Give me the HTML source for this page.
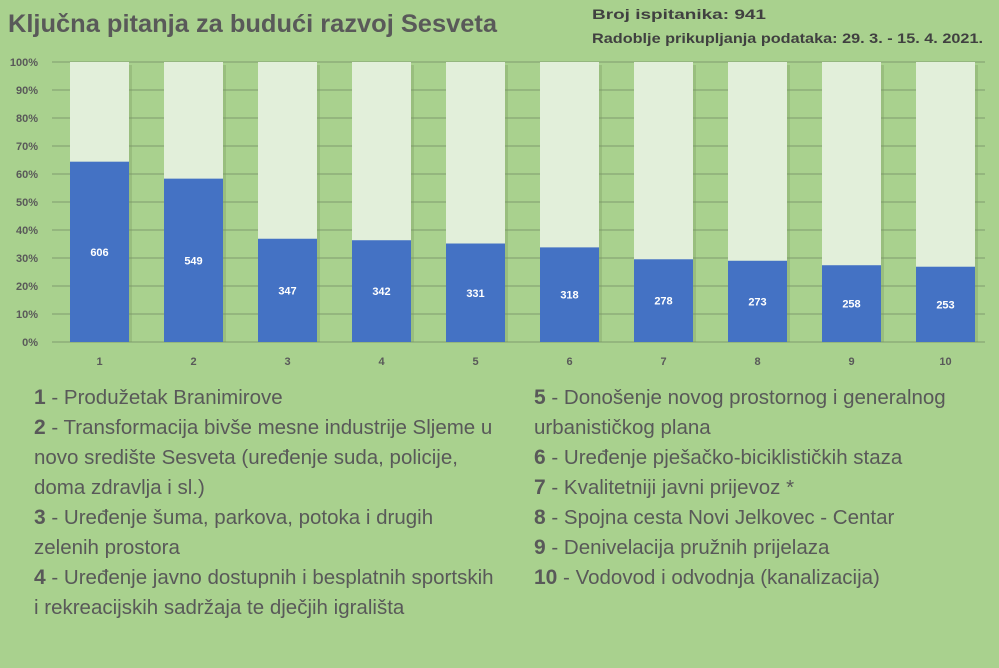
<!DOCTYPE html><html><head><meta charset="utf-8"><style>
body{margin:0;background:#a9d18e;}
svg{display:block;font-family:"Liberation Sans",sans-serif;}
.leg{font-size:20.5px;fill:#595959;}
.leg tspan.b{font-weight:bold;font-size:21px;}
</style></head><body>
<svg width="999" height="668" viewBox="0 0 999 668">
<rect width="999" height="668" fill="#a9d18e"/>
<text x="8" y="32" font-size="25" font-weight="bold" fill="#595959" textLength="489" lengthAdjust="spacingAndGlyphs">Ključna pitanja za budući razvoj Sesveta</text>
<text x="592" y="19" font-size="14" font-weight="bold" fill="#404040" textLength="174" lengthAdjust="spacingAndGlyphs">Broj ispitanika: 941</text>
<text x="592" y="43" font-size="14" font-weight="bold" fill="#404040" textLength="391" lengthAdjust="spacingAndGlyphs">Radoblje prikupljanja podataka: 29. 3. - 15. 4. 2021.</text>
<g stroke="#7f9a6e" stroke-width="1">
<line x1="52" x2="985" y1="62" y2="62"/><line x1="52" x2="985" y1="90" y2="90"/><line x1="52" x2="985" y1="118" y2="118"/><line x1="52" x2="985" y1="146" y2="146"/><line x1="52" x2="985" y1="174" y2="174"/><line x1="52" x2="985" y1="202" y2="202"/><line x1="52" x2="985" y1="230" y2="230"/><line x1="52" x2="985" y1="258" y2="258"/><line x1="52" x2="985" y1="286" y2="286"/><line x1="52" x2="985" y1="314" y2="314"/><line x1="52" x2="985" y1="342" y2="342"/>
</g>
<g font-size="11" font-weight="bold" fill="#595959" text-anchor="end">
<text x="38" y="66">100%</text><text x="38" y="94">90%</text><text x="38" y="122">80%</text><text x="38" y="150">70%</text><text x="38" y="178">60%</text><text x="38" y="206">50%</text><text x="38" y="234">40%</text><text x="38" y="262">30%</text><text x="38" y="290">20%</text><text x="38" y="318">10%</text><text x="38" y="346">0%</text>
</g>
<g id="bars"></g>
<g class="leg">
<text x="34" y="404"><tspan class="b">1</tspan> - Produžetak  Branimirove</text>
<text x="34" y="434"><tspan class="b">2</tspan> - Transformacija bivše mesne industrije Sljeme u</text>
<text x="34" y="464">novo središte Sesveta (uređenje suda, policije,</text>
<text x="34" y="494">doma zdravlja i sl.)</text>
<text x="34" y="524"><tspan class="b">3</tspan> - Uređenje šuma, parkova, potoka i drugih</text>
<text x="34" y="554">zelenih prostora</text>
<text x="34" y="584"><tspan class="b">4</tspan> - Uređenje javno dostupnih i besplatnih sportskih</text>
<text x="34" y="614">i rekreacijskih sadržaja te dječjih igrališta</text>
<text x="534" y="404"><tspan class="b">5</tspan> - Donošenje novog prostornog i generalnog</text>
<text x="534" y="434">urbanističkog plana</text>
<text x="534" y="464"><tspan class="b">6</tspan> - Uređenje pješačko-biciklističkih staza</text>
<text x="534" y="494"><tspan class="b">7</tspan> - Kvalitetniji javni prijevoz *</text>
<text x="534" y="524"><tspan class="b">8</tspan> - Spojna cesta Novi Jelkovec - Centar</text>
<text x="534" y="554"><tspan class="b">9</tspan> - Denivelacija pružnih prijelaza</text>
<text x="534" y="584"><tspan class="b">10</tspan> - Vodovod i odvodnja (kanalizacija)</text>
</g>
</svg>
<script>
var v=[606,549,347,342,331,318,278,273,258,253],g=document.getElementById('bars'),s='';
v.forEach(function(n,i){var x=70+i*94,h=n/941*280,y=342-h,c=x+29.5;
s+='<rect x="'+(x+3)+'" y="65" width="59" height="277" fill="#7a9a62" opacity="0.35"/>';
s+='<rect x="'+x+'" y="62" width="59" height="280" fill="#e2efda"/>';
s+='<rect x="'+x+'" y="'+y+'" width="59" height="'+h+'" fill="#4472c4"/>';
s+='<text x="'+c+'" y="'+(y+h/2+4)+'" font-size="11" font-weight="bold" fill="#fff" text-anchor="middle">'+n+'</text>';
s+='<text x="'+c+'" y="365" font-size="11" font-weight="bold" fill="#595959" text-anchor="middle">'+(i+1)+'</text>';});
g.innerHTML=s;
</script>
</body></html>
